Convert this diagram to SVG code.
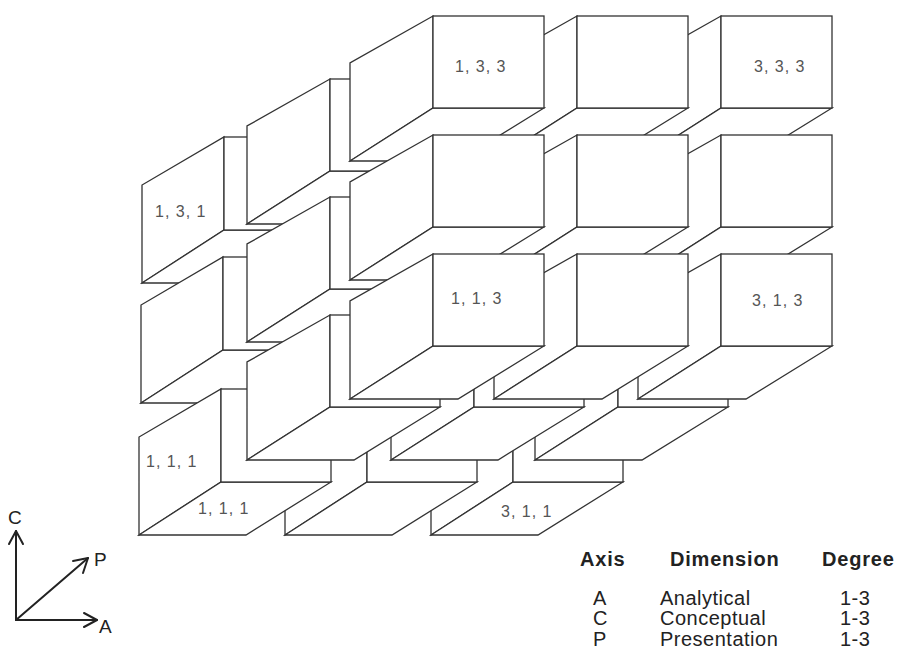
<svg xmlns="http://www.w3.org/2000/svg" xmlns:xlink="http://www.w3.org/1999/xlink" width="900" height="656" viewBox="0 0 900 656">
<style>
.f{fill:#fff;stroke:#333;stroke-width:1.3;stroke-linejoin:miter}
.lb{font-family:"Liberation Sans",Arial,sans-serif;font-size:16px;fill:#555;letter-spacing:1px}
.ax{stroke:#222;stroke-width:2;fill:none;stroke-linecap:round;stroke-linejoin:round}
.axl{font-family:"Liberation Sans",Arial,sans-serif;font-size:19px;fill:#222}
.hd{font-family:"Liberation Sans",Arial,sans-serif;font-size:20px;font-weight:bold;fill:#222;letter-spacing:0.8px}
.rw{font-family:"Liberation Sans",Arial,sans-serif;font-size:20px;fill:#222;letter-spacing:0.5px}
</style>
<defs>
<g id="b3">
<polygon class="f" points="0,0 0,92 -83,145 -83,47"/>
<polygon class="f" points="0,92 111,92 25,145 -83,145"/>
<rect class="f" x="0" y="0" width="111" height="92"/>
</g>
<g id="b2">
<polygon class="f" points="0,0 0,92 -83,145 -83,47"/>
<polygon class="f" points="0,92 110,92 24,145 -83,145"/>
<rect class="f" x="0" y="0" width="110" height="92"/>
</g>
<g id="b1">
<polygon class="f" points="0,0 0,93 -82,146 -82,48"/>
<polygon class="f" points="0,93 110,93 25,146 -82,146"/>
<rect class="f" x="0" y="0" width="110" height="93"/>
</g>
</defs>
<rect x="0" y="0" width="900" height="656" fill="#fff"/>
<g id="cube">
<g id="box-3-3-1"><use xlink:href="#b1" x="516" y="137"/></g>
<g id="box-3-2-1"><use xlink:href="#b1" x="515" y="257"/></g>
<g id="box-2-3-1"><use xlink:href="#b1" x="370" y="137"/></g>
<g id="box-3-3-2"><use xlink:href="#b2" x="618" y="79"/></g>
<g id="box-3-1-1"><use xlink:href="#b1" x="513" y="389"/></g>
<g id="box-2-2-1"><use xlink:href="#b1" x="369" y="257"/></g>
<g id="box-1-3-1"><use xlink:href="#b1" x="224" y="137"/></g>
<g id="box-3-2-2"><use xlink:href="#b2" x="618" y="197"/></g>
<g id="box-2-3-2"><use xlink:href="#b2" x="474" y="79"/></g>
<g id="box-3-3-3"><use xlink:href="#b3" x="721" y="16"/></g>
<g id="box-2-1-1"><use xlink:href="#b1" x="367" y="389"/></g>
<g id="box-1-2-1"><use xlink:href="#b1" x="223" y="257"/></g>
<g id="box-3-1-2"><use xlink:href="#b2" x="618" y="315"/></g>
<g id="box-2-2-2"><use xlink:href="#b2" x="474" y="197"/></g>
<g id="box-1-3-2"><use xlink:href="#b2" x="330" y="79"/></g>
<g id="box-3-2-3"><use xlink:href="#b3" x="721" y="135"/></g>
<g id="box-2-3-3"><use xlink:href="#b3" x="577" y="16"/></g>
<g id="box-1-1-1"><use xlink:href="#b1" x="221" y="389"/></g>
<g id="box-2-1-2"><use xlink:href="#b2" x="474" y="315"/></g>
<g id="box-1-2-2"><use xlink:href="#b2" x="330" y="197"/></g>
<g id="box-3-1-3"><use xlink:href="#b3" x="721" y="254"/></g>
<g id="box-2-2-3"><use xlink:href="#b3" x="577" y="135"/></g>
<g id="box-1-3-3"><use xlink:href="#b3" x="433" y="16"/></g>
<g id="box-1-1-2"><use xlink:href="#b2" x="330" y="315"/></g>
<g id="box-2-1-3"><use xlink:href="#b3" x="577" y="254"/></g>
<g id="box-1-2-3"><use xlink:href="#b3" x="433" y="135"/></g>
<g id="box-1-1-3"><use xlink:href="#b3" x="433" y="254"/></g>
</g>
<g id="labels">
<text class="lb" x="455" y="72">1, 3, 3</text>
<text class="lb" x="754" y="72">3, 3, 3</text>
<text class="lb" x="155" y="217">1, 3, 1</text>
<text class="lb" x="451" y="304">1, 1, 3</text>
<text class="lb" x="752" y="306">3, 1, 3</text>
<text class="lb" x="146" y="467">1, 1, 1</text>
<text class="lb" x="198" y="514">1, 1, 1</text>
<text class="lb" x="501" y="517">3, 1, 1</text>
</g>
<g id="axes">
<line class="ax" x1="16" y1="620" x2="16" y2="531"/>
<polyline class="ax" points="9,544 16,531 23,544"/>
<line class="ax" x1="16" y1="620" x2="97" y2="620"/>
<polyline class="ax" points="84,613 97,620 84,627"/>
<line class="ax" x1="16" y1="620" x2="88" y2="558"/>
<polyline class="ax" points="73,561 88,558 83,573"/>
<text class="axl" x="8" y="524">C</text>
<text class="axl" x="94" y="566">P</text>
<text class="axl" x="99" y="633">A</text>
</g>
<g id="legend">
<text class="hd" x="580" y="566">Axis</text>
<text class="hd" x="670" y="566">Dimension</text>
<text class="hd" x="822" y="566">Degree</text>
<text class="rw" x="593" y="605">A</text>
<text class="rw" x="660" y="605">Analytical</text>
<text class="rw" x="840" y="605">1-3</text>
<text class="rw" x="593" y="625">C</text>
<text class="rw" x="660" y="625">Conceptual</text>
<text class="rw" x="840" y="625">1-3</text>
<text class="rw" x="593" y="646">P</text>
<text class="rw" x="660" y="646">Presentation</text>
<text class="rw" x="840" y="646">1-3</text>
</g>
</svg>
